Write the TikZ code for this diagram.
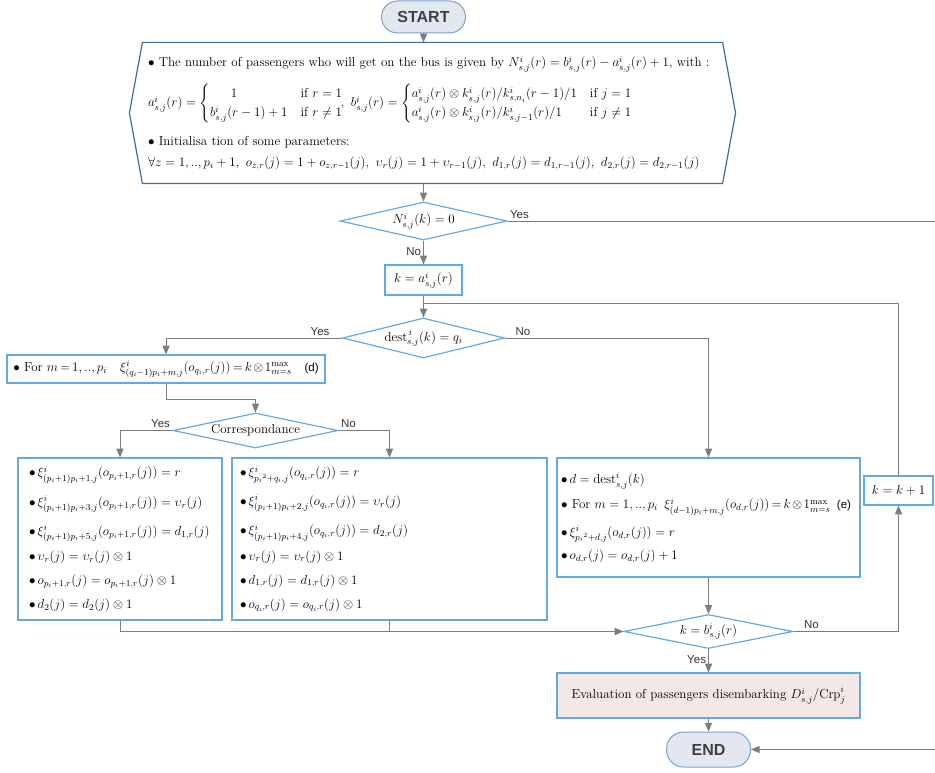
\RequirePackage{fix-cm}
\documentclass[tikz,border=0pt]{standalone}
\usepackage{amsmath}
\usepackage{amssymb}
\usepackage{fontspec}
\setsansfont{Liberation Sans}
\usepackage{tikz}
\usetikzlibrary{arrows,shapes}
\usetikzlibrary{positioning}
\definecolor{boxblue}{RGB}{100,170,225}
\definecolor{hexblue}{RGB}{60,110,150}
\definecolor{flowgray}{RGB}{125,125,125}
\definecolor{pillfill}{RGB}{227,231,239}
\definecolor{pillline}{RGB}{125,160,210}
\definecolor{evalfill}{RGB}{243,231,231}
\newcommand{\boxfont}{\fontsize{13}{16}\selectfont}
\newcommand{\eqmark}[1]{{\sffamily\fontsize{11.5}{13}\selectfont(#1)}}
\tikzstyle{wire}=[draw=flowgray,line width=1pt]
\tikzstyle{flow}=[wire,->,>=triangle 45]
\tikzstyle{terminal}=[draw=pillline,fill=pillfill,line width=1pt,rounded corners=16pt,
                text=black!75,font=\sffamily\bfseries\fontsize{16}{18}\selectfont]
\tikzstyle{decision}=[diamond,draw=boxblue,line width=1.2pt,inner sep=0pt,font=\boxfont]
\tikzstyle{process}=[draw=boxblue,line width=1.2pt,inner sep=0pt,font=\boxfont]
\tikzstyle{answer}=[font=\sffamily\fontsize{11.5}{13}\selectfont,text=black!80,inner sep=2pt]

\begin{document}
\begin{tikzpicture}[x=1pt,y=-1pt]
\useasboundingbox (0,0) rectangle (935,773);

\node[terminal,minimum width=84,minimum height=32] (start) at (423.5,17) {START};

\node[process,draw=none,minimum width=579,minimum height=140,text width=569,
      align=left] (init) at (432.5,113) {%
$\bullet$ The number of passengers who will get on the bus is given by
$N^i_{s,j}(r)=b^i_{s,j}(r)-a^i_{s,j}(r)+1$, with :\\[11pt]
$a^i_{s,j}(r)=\begin{cases}\hspace{1.6em}1 & \text{if } r=1\\
 b^i_{s,j}(r-1)+1 & \text{if } r\neq1\end{cases}\!\!,\
 b^i_{s,j}(r)=\begin{cases}a^i_{s,j}(r)\otimes k^i_{s,j}(r)/k^i_{s,n_i}(r-1)/1 & \text{if } j=1\\
 a^i_{s,j}(r)\otimes k^i_{s,j}(r)/k^i_{s,j-1}(r)/1 & \text{if } j\neq1\end{cases}$\\[12pt]
$\bullet$ Initialisa tion of some parameters:\\[5pt]
$\forall z=1,..,p_i+1,\ o_{z,r}(j)=1+o_{z,r-1}(j),\ \upsilon_r(j)=1+\upsilon_{r-1}(j),\
 d_{1,r}(j)=d_{1,r-1}(j),\ d_{2,r}(j)=d_{2,r-1}(j)$};
\draw[draw=hexblue,line width=1.2pt] (init.north west) -- (init.north east)
  -- ([xshift=13pt]init.east) -- (init.south east) -- (init.south west)
  -- ([xshift=-13pt]init.west) -- cycle;

\node[decision,aspect=4.4,minimum width=167,minimum height=38] (zero) at (423.5,221) {$N^i_{s,j}(k)=0$};
\node[process,minimum width=77,minimum height=30] (ka) at (423.5,280) {$k=a^i_{s,j}(r)$};
\node[decision,aspect=4,minimum width=162,minimum height=40] (dest) at (423.5,338)
  {$\mathrm{dest}^{\,i}_{s,j}(k)=q_i$};

\node[process,minimum width=318,minimum height=28] (ford) at (166,369)
  {\thickmuskip=3mu\medmuskip=2mu$\bullet$ For $m=1,..,p_i$\quad
  $\xi^i_{(q_i-1)p_i+m,j}(o_{q_i,r}(j))=k\otimes1^{\max}_{m=s}$\quad\eqmark{d}};
\node[decision,aspect=4.7,minimum width=165,minimum height=35] (corr) at (255.5,430.5) {Correspondance};

\node[process,minimum width=204,minimum height=162,text width=182,align=left]
  (yesbox) at (120,539) {%
$\bullet\,\xi^i_{(p_i+1)p_i+1,j}(o_{p_i+1,r}(j))=r$\\[11pt]
$\bullet\,\xi^i_{(p_i+1)p_i+3,j}(o_{p_i+1,r}(j))=\upsilon_r(j)$\\[11pt]
$\bullet\,\xi^i_{(p_i+1)p_i+5,j}(o_{p_i+1,r}(j))=d_{1,r}(j)$\\[8pt]
$\bullet\,\upsilon_r(j)=\upsilon_r(j)\otimes1$\\[8pt]
$\bullet\,o_{p_i+1,r}(j)=o_{p_i+1,r}(j)\otimes1$\\[8pt]
$\bullet\,d_2(j)=d_2(j)\otimes1$};
\node[process,minimum width=315,minimum height=162,text width=299,align=left]
  (nobox) at (389.5,539) {%
$\bullet\,\xi^i_{p_i{}^2+q_i,j}(o_{q_i,r}(j))=r$\\[11pt]
$\bullet\,\xi^i_{(p_i+1)p_i+2,j}(o_{q_i,r}(j))=\upsilon_r(j)$\\[11pt]
$\bullet\,\xi^i_{(p_i+1)p_i+4,j}(o_{q_i,r}(j))=d_{2,r}(j)$\\[8pt]
$\bullet\,\upsilon_r(j)=\upsilon_r(j)\otimes1$\\[8pt]
$\bullet\,d_{1,r}(j)=d_{1,r}(j)\otimes1$\\[8pt]
$\bullet\,o_{q_i,r}(j)=o_{q_i,r}(j)\otimes1$};
\node[process,minimum width=303,minimum height=119,text width=295,align=left]
  (otherbox) at (708.5,517.5) {%
$\bullet\,d=\mathrm{dest}^i_{s,j}(k)$\\[9pt]
$\bullet$ For $m=1,..,p_i$\enskip
 {\thickmuskip=3mu\medmuskip=2mu$\xi^i_{(d-1)p_i+m,j}(o_{d,r}(j))=k\otimes1^{\max}_{m=s}$}\enskip\eqmark{e}\\[9pt]
$\bullet\,\xi^i_{p_i{}^2+d,j}(o_{d,r}(j))=r$\\[7pt]
$\bullet\,o_{d,r}(j)=o_{d,r}(j)+1$};
\node[process,minimum width=69,minimum height=29] (inc) at (898.5,490.5) {$k=k+1$};

\node[decision,aspect=5,minimum width=169,minimum height=34] (last) at (708.5,631.5) {$k=b^i_{s,j}(r)$};
\node[process,fill=evalfill,minimum width=303,minimum height=45] (eval) at (708.5,695.5)
  {Evaluation of passengers disembarking $D^i_{s,j}/\mathrm{Crp}^i_j$};
\node[terminal,minimum width=84,minimum height=35,rounded corners=17pt] (end) at (708.5,749.5) {END};

\coordinate (offpage) at (945,480);
\coordinate (join) at (423.5,303);

% main line
\draw[flow] (start.south) -- (start.south |- init.north);
\draw[flow] (start.south |- init.south) -- (zero.north);
\draw[flow] (zero.east) node[answer,above right] {Yes} -| (offpage) |- (end.east);
\draw[flow] (zero.south) -- node[answer,left,pos=0.45] {No} (ka.north);
\draw[flow] (ka.south) -- (dest.north);

% destination test
\draw[flow] (dest.west) node[answer,above left,xshift=-10pt] {Yes} -| (ford.north);
\draw[flow] (dest.east) node[answer,above right,xshift=8pt] {No} -| (otherbox.north);
\draw[flow] (ford.south) -- ++(0,16) -| (corr.north);
\draw[flow] (corr.west) node[answer,above left] {Yes} -| (yesbox.north);
\draw[flow] (corr.east) node[answer,above right] {No} -| (nobox.north);

% back to the loop test
\draw[flow] (yesbox.south) |- (last.west);
\draw[wire] (nobox.south) -- (nobox.south |- last.west);
\draw[flow] (otherbox.south) -- (last.north);
\draw[flow] (last.east) node[answer,above right,xshift=8pt] {No} -| (inc.south);
\draw[wire] (inc.north) |- (join);
\draw[flow] (last.south) -- node[answer,left,pos=0.45] {Yes} (eval.north);
\draw[flow] (eval.south) -- (end.north);

\end{tikzpicture}
\end{document}
